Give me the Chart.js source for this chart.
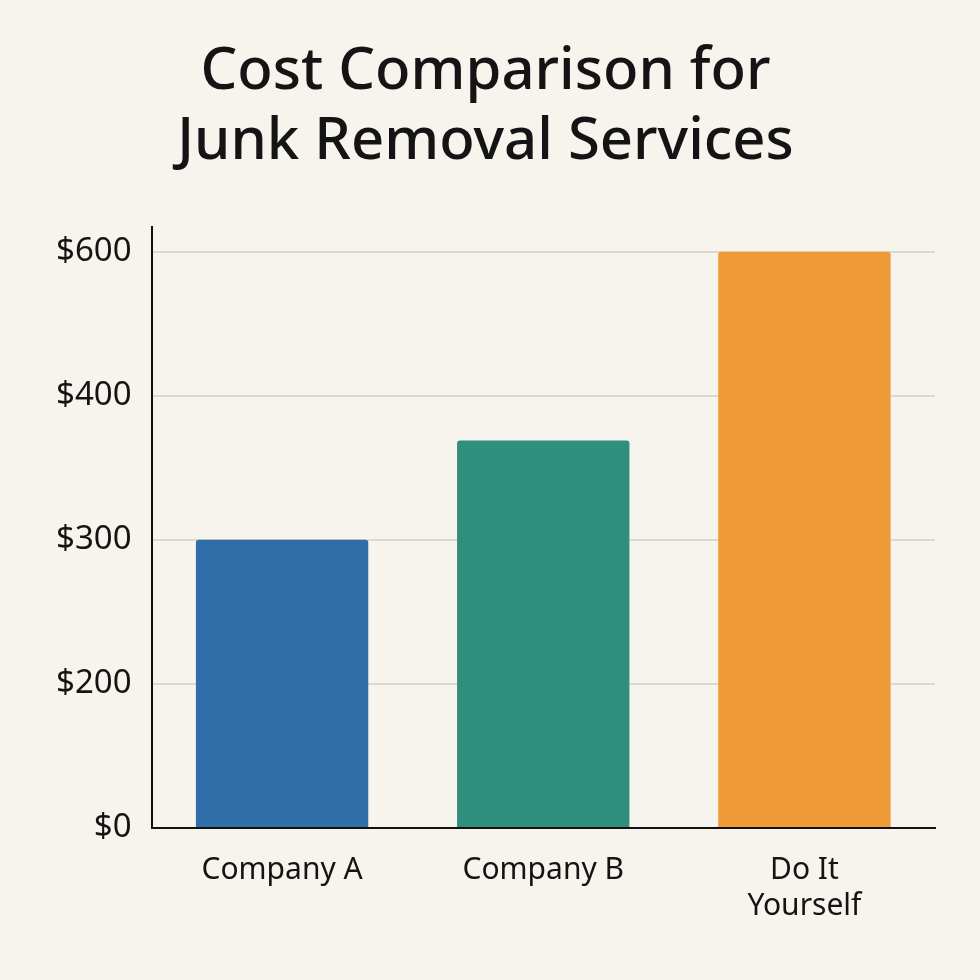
<!DOCTYPE html>
<html>
<head>
<meta charset="utf-8">
<script src="https://cdn.jsdelivr.net/npm/chart.js@4"></script>
<style>
  html, body { margin: 0; padding: 0; background: #f7f4ee; }
  #wrap { width: 980px; height: 980px; }
</style>
</head>
<body>
<div id="wrap"><canvas id="chart" width="980" height="980"></canvas></div>
<script>
const categories = [["Company A"], ["Company B"], ["Do It", "Yourself"]];
const costs = [300, 369, 600];
const tickLabels = ["$0", "$200", "$300", "$400", "$600"];
const tickValues = [0, 200, 300, 400, 600];
const barColors = ["#2f6ea9", "#2f8f7c", "#ee9a36"];

// the y axis is evenly spaced by tick, not by dollar: map a cost to tick position
function toTickPos(v) {
  for (let i = 1; i < tickValues.length; i++) {
    if (v <= tickValues[i]) {
      return i - 1 + (v - tickValues[i - 1]) / (tickValues[i] - tickValues[i - 1]);
    }
  }
  return tickValues.length - 1;
}

new Chart(document.getElementById("chart"), {
  type: "bar",
  data: {
    labels: categories,
    datasets: [{
      data: costs.map(toTickPos),
      backgroundColor: barColors,
      borderRadius: 3,
      borderSkipped: "bottom",
      categoryPercentage: 0.66,
      barPercentage: 1,
    }],
  },
  options: {
    responsive: false,
    animation: false,
    layout: { padding: { left: 36, right: 45, top: 38, bottom: 40 } },
    plugins: {
      legend: { display: false },
      tooltip: { enabled: false },
      title: {
        display: true,
        text: ["Cost Comparison for", "Junk Removal Services"],
        color: "#141414",
        font: { family: "Noto Sans", size: 58, weight: "500" },
        lineHeight: 1.33,
        padding: { top: 0, bottom: 50 },
      },
    },
    scales: {
      x: {
        grid: { display: false },
        border: { color: "#111", width: 2 },
        ticks: { color: "#141414", font: { family: "Noto Sans", size: 30 }, padding: 16 },
      },
      y: {
        min: 0,
        max: 4.17,
        afterBuildTicks: (axis) => {
          axis.ticks = tickLabels.map((_, i) => ({ value: i }));
        },
        grid: { color: "#dcd8d0", lineWidth: 2, drawTicks: false },
        border: { color: "#111", width: 2 },
        ticks: {
          color: "#141414",
          font: { family: "Noto Sans", size: 33 },
          padding: 20,
          callback: (v) => tickLabels[v],
        },
      },
    },
  },
});
</script>
</body>
</html>
